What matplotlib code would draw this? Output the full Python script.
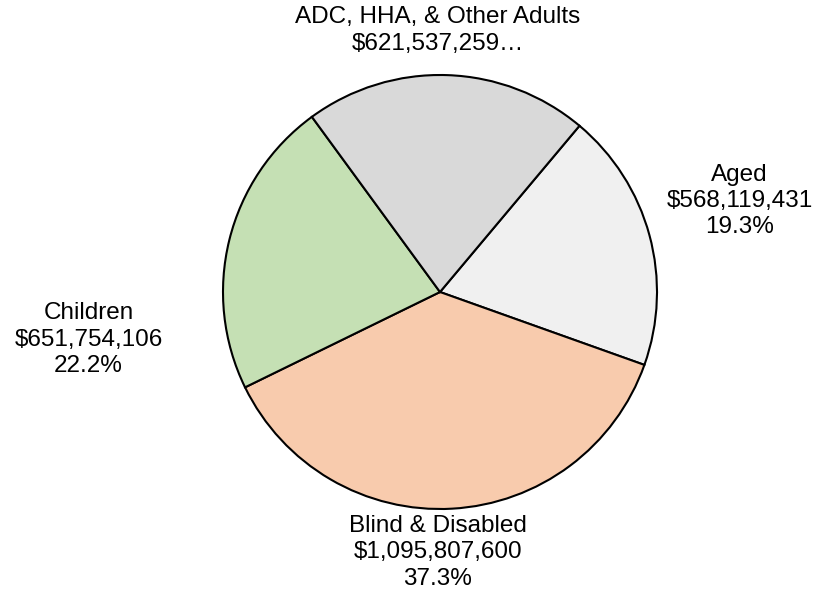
import matplotlib
matplotlib.use("Agg")
import matplotlib.pyplot as plt

# Spending by eligibility group
categories = ["Aged", "Blind & Disabled", "Children", "ADC, HHA, & Other Adults"]
amounts = [568119431, 1095807600, 651754106, 621537259]
colors = ["#F0F0F0", "#F8CBAD", "#C5E0B4", "#D9D9D9"]

plt.rcParams["font.family"] = ["Liberation Sans", "DejaVu Sans"]

W, H = 817, 596
fig = plt.figure(figsize=(W / 100, H / 100), dpi=100)

# Pie centre and radius in pixels
cx, cy, r = 440, 292, 217
ax = fig.add_axes([(cx - r) / W, (H - cy - r) / H, 2 * r / W, 2 * r / H])

wedges, _ = ax.pie(
    amounts,
    colors=colors,
    startangle=50,
    counterclock=False,
    radius=1,
    wedgeprops=dict(edgecolor="black", linewidth=1.5),
)
ax.set_xlim(-1, 1)
ax.set_ylim(-1, 1)
ax.set_aspect("equal")
ax.axis("off")

total = sum(amounts)
label_pos = {
    "Aged": (1.38, 0.42),
    "Blind & Disabled": (-0.01, -1.20),
    "Children": (-1.62, -0.22),
    "ADC, HHA, & Other Adults": (-0.01, 1.205),
}

for name, val in zip(categories, amounts):
    pct = 100 * val / total
    if name.startswith("ADC"):
        txt = f"{name}\n${val:,}\u2026"
    else:
        txt = f"{name}\n${val:,}\n{pct:.1f}%"
    x, y = label_pos[name]
    ax.text(x, y, txt, ha="center", va="center", fontsize=17.5,
            linespacing=1.25, clip_on=False)

fig.savefig("out.png", dpi=100, facecolor="white")
